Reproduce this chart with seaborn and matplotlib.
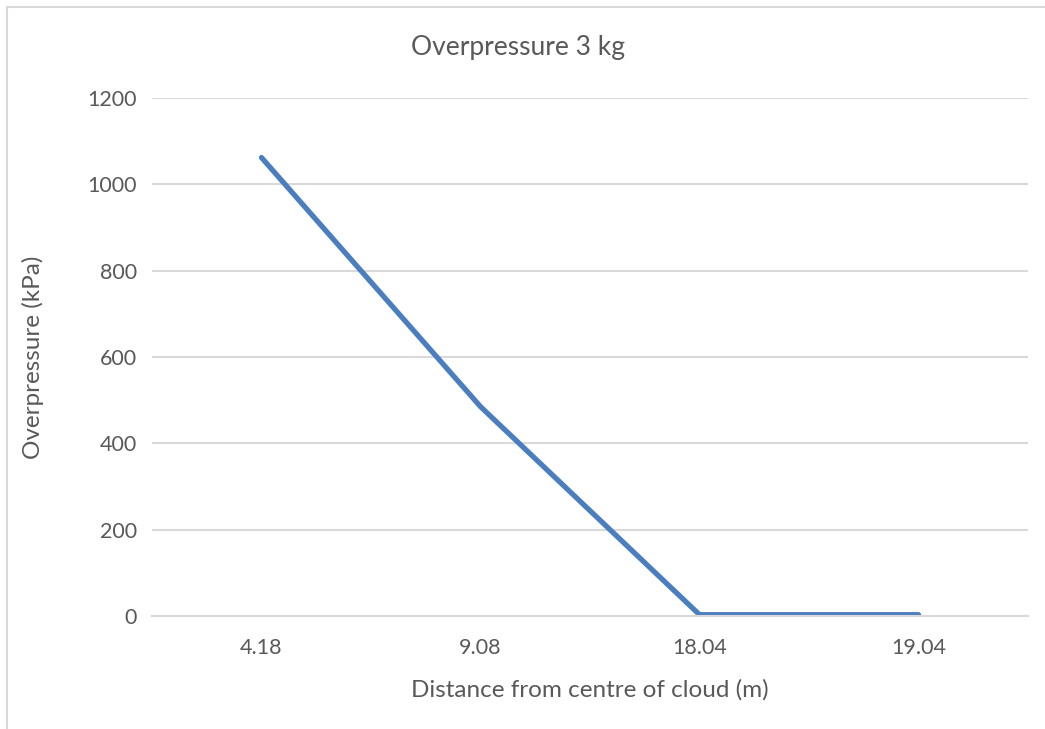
import matplotlib
matplotlib.use("Agg")
import matplotlib.pyplot as plt
from matplotlib.patches import Rectangle
import seaborn as sns
import pandas as pd

# Overpressure vs distance from the cloud centre (3 kg charge)
distance_labels = ["4.18", "9.08", "18.04", "19.04"]
overpressure_kpa = [1062, 485, 3, 3]
y_ticks = [0, 200, 400, 600, 800, 1000, 1200]

title_text = "Overpressure 3 kg"
x_title = "Distance from centre of cloud (m)"
y_title = "Overpressure (kPa)"

line_color = "#4A7EBF"
grid_color = "#D9D9D9"
text_color = "#595959"

sns.set_theme(style="white")
plt.rcParams["font.family"] = ["Lato", "DejaVu Sans"]

df = pd.DataFrame({"distance": distance_labels, "overpressure": overpressure_kpa})

W, H = 1045, 729
fig = plt.figure(figsize=(W / 100, H / 100), dpi=100)
fig.patch.set_facecolor("white")

# chart frame (light border on the left and top)
fig.patches.append(Rectangle((7 / W, -0.1), 1.2, 1 - 7 / H + 0.1,
                             transform=fig.transFigure, fill=False,
                             edgecolor=grid_color, linewidth=1.5))

ax = fig.add_axes([152 / W, 1 - 616 / H, (1028 - 152) / W, (616 - 98) / H])

sns.lineplot(data=df, x="distance", y="overpressure", ax=ax,
             color=line_color, linewidth=3.8, sort=False,
             solid_capstyle="round", solid_joinstyle="round")

ax.set_xlim(-0.5, len(distance_labels) - 0.5)
ax.set_ylim(y_ticks[0], y_ticks[-1])
ax.set_yticks(y_ticks)
ax.set_yticklabels([str(v) for v in y_ticks])
ax.yaxis.grid(True, color=grid_color, linewidth=1.5)
ax.xaxis.grid(False)
ax.set_axisbelow(True)
for side in ["top", "right", "left"]:
    ax.spines[side].set_visible(False)
ax.spines["bottom"].set_color(grid_color)
ax.spines["bottom"].set_linewidth(1.5)

ax.tick_params(axis="both", length=0, labelsize=15.5, labelcolor=text_color)
ax.tick_params(axis="y", pad=11)
ax.tick_params(axis="x", pad=16)
ax.set_xlabel("")
ax.set_ylabel("")

fig.text(0.5 * (152 + 1028) / W, 1 - 690 / H, x_title, ha="center", va="center",
         fontsize=17.5, color=text_color)
fig.text(33 / W, 1 - 357 / H, y_title, ha="center", va="center", rotation=90,
         fontsize=17.5, color=text_color)
fig.text(518 / W, 1 - 48 / H, title_text, ha="center", va="center",
         fontsize=19, color=text_color)

fig.savefig("out.png", dpi=100, facecolor="white")
